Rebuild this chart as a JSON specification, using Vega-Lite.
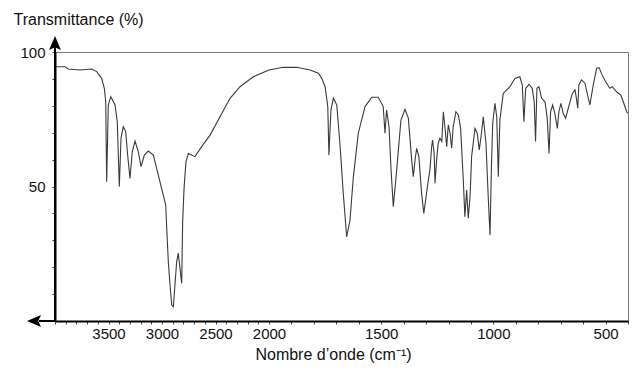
{
  "$schema": "https://vega.github.io/schema/vega-lite/v6.json",
  "width": 573,
  "height": 269,
  "autosize": {"type": "none"},
  "padding": {"left": 55, "top": 52, "right": 7, "bottom": 49},
  "background": "white",
  "config": {"view": {"stroke": "#7a7a7a", "strokeWidth": 1}, "font": "Liberation Sans"},
  "datasets": {
    "spectrum": [
      {"wn": 4000, "T": 94.5}, {"wn": 3907, "T": 94.5}, {"wn": 3876, "T": 93.7}, {"wn": 3766, "T": 93.3},
      {"wn": 3657, "T": 93.7}, {"wn": 3610, "T": 92.7}, {"wn": 3564, "T": 90.2}, {"wn": 3539, "T": 86.5},
      {"wn": 3526, "T": 81.5}, {"wn": 3517, "T": 51.8}, {"wn": 3502, "T": 80.3}, {"wn": 3479, "T": 83.4},
      {"wn": 3439, "T": 80.3}, {"wn": 3418, "T": 74.1}, {"wn": 3399, "T": 49.9}, {"wn": 3383, "T": 68.0},
      {"wn": 3362, "T": 72.2}, {"wn": 3339, "T": 70.4}, {"wn": 3321, "T": 61.7}, {"wn": 3299, "T": 53.0},
      {"wn": 3278, "T": 62.9}, {"wn": 3252, "T": 66.9}, {"wn": 3221, "T": 62.9}, {"wn": 3196, "T": 57.4},
      {"wn": 3165, "T": 61.7}, {"wn": 3128, "T": 63.2}, {"wn": 3081, "T": 61.7}, {"wn": 3035, "T": 54.3},
      {"wn": 2988, "T": 46.8}, {"wn": 2965, "T": 43.1}, {"wn": 2956, "T": 34.6}, {"wn": 2941, "T": 22.0},
      {"wn": 2925, "T": 13.4}, {"wn": 2909, "T": 5.9}, {"wn": 2894, "T": 5.3}, {"wn": 2863, "T": 22.0},
      {"wn": 2848, "T": 25.2}, {"wn": 2832, "T": 19.6}, {"wn": 2816, "T": 14.0}, {"wn": 2807, "T": 36.9},
      {"wn": 2794, "T": 49.3}, {"wn": 2776, "T": 59.2}, {"wn": 2754, "T": 62.3}, {"wn": 2692, "T": 61.1},
      {"wn": 2629, "T": 64.8}, {"wn": 2551, "T": 69.1}, {"wn": 2458, "T": 75.9}, {"wn": 2364, "T": 82.8},
      {"wn": 2271, "T": 87.1}, {"wn": 2147, "T": 90.8}, {"wn": 2000, "T": 93.3}, {"wn": 1936, "T": 94.3},
      {"wn": 1877, "T": 94.3}, {"wn": 1817, "T": 93.3}, {"wn": 1780, "T": 92.1}, {"wn": 1765, "T": 90.2},
      {"wn": 1750, "T": 87.1}, {"wn": 1738, "T": 79.7}, {"wn": 1733, "T": 61.7}, {"wn": 1724, "T": 78.4},
      {"wn": 1713, "T": 82.8}, {"wn": 1698, "T": 80.3}, {"wn": 1684, "T": 66.1}, {"wn": 1669, "T": 47.5},
      {"wn": 1654, "T": 31.3}, {"wn": 1639, "T": 37.5}, {"wn": 1624, "T": 53.6}, {"wn": 1602, "T": 69.8},
      {"wn": 1572, "T": 79.7}, {"wn": 1542, "T": 83.2}, {"wn": 1513, "T": 83.2}, {"wn": 1491, "T": 79.7},
      {"wn": 1483, "T": 69.8}, {"wn": 1476, "T": 78.4}, {"wn": 1465, "T": 72.2}, {"wn": 1456, "T": 56.1},
      {"wn": 1446, "T": 42.5}, {"wn": 1431, "T": 56.1}, {"wn": 1412, "T": 74.7}, {"wn": 1394, "T": 78.7},
      {"wn": 1379, "T": 75.4}, {"wn": 1364, "T": 59.9}, {"wn": 1357, "T": 53.6}, {"wn": 1349, "T": 59.9},
      {"wn": 1342, "T": 64.2}, {"wn": 1332, "T": 61.1}, {"wn": 1320, "T": 47.5}, {"wn": 1310, "T": 40.0},
      {"wn": 1290, "T": 52.4}, {"wn": 1283, "T": 56.1}, {"wn": 1275, "T": 64.8}, {"wn": 1271, "T": 67.3},
      {"wn": 1264, "T": 62.3}, {"wn": 1260, "T": 51.2}, {"wn": 1253, "T": 59.9}, {"wn": 1246, "T": 66.1},
      {"wn": 1238, "T": 67.9}, {"wn": 1230, "T": 66.7}, {"wn": 1223, "T": 77.8}, {"wn": 1216, "T": 72.2},
      {"wn": 1208, "T": 64.8}, {"wn": 1201, "T": 72.9}, {"wn": 1193, "T": 69.8}, {"wn": 1186, "T": 64.2},
      {"wn": 1179, "T": 72.2}, {"wn": 1167, "T": 77.8}, {"wn": 1156, "T": 76.6}, {"wn": 1146, "T": 71.6},
      {"wn": 1134, "T": 52.4}, {"wn": 1127, "T": 38.8}, {"wn": 1119, "T": 48.7}, {"wn": 1112, "T": 38.2},
      {"wn": 1104, "T": 46.2}, {"wn": 1097, "T": 61.1}, {"wn": 1082, "T": 71.6}, {"wn": 1072, "T": 69.8},
      {"wn": 1063, "T": 63.6}, {"wn": 1055, "T": 68.5}, {"wn": 1045, "T": 75.9}, {"wn": 1033, "T": 66.1},
      {"wn": 1023, "T": 46.2}, {"wn": 1015, "T": 32.0}, {"wn": 1009, "T": 56.1}, {"wn": 1003, "T": 73.5},
      {"wn": 993, "T": 80.9}, {"wn": 985, "T": 75.9}, {"wn": 978, "T": 53.6}, {"wn": 971, "T": 74.7},
      {"wn": 956, "T": 84.6}, {"wn": 926, "T": 87.1}, {"wn": 904, "T": 90.2}, {"wn": 882, "T": 90.8},
      {"wn": 871, "T": 87.7}, {"wn": 864, "T": 74.1}, {"wn": 856, "T": 86.5}, {"wn": 841, "T": 88.0},
      {"wn": 827, "T": 86.5}, {"wn": 818, "T": 81.5}, {"wn": 812, "T": 66.7}, {"wn": 806, "T": 86.5},
      {"wn": 797, "T": 87.1}, {"wn": 785, "T": 82.8}, {"wn": 770, "T": 81.5}, {"wn": 760, "T": 75.4},
      {"wn": 752, "T": 62.3}, {"wn": 745, "T": 77.8}, {"wn": 736, "T": 80.3}, {"wn": 726, "T": 77.2},
      {"wn": 715, "T": 71.6}, {"wn": 708, "T": 77.8}, {"wn": 699, "T": 80.9}, {"wn": 689, "T": 77.2},
      {"wn": 678, "T": 75.4}, {"wn": 666, "T": 79.1}, {"wn": 648, "T": 84.6}, {"wn": 636, "T": 85.9},
      {"wn": 629, "T": 82.2}, {"wn": 624, "T": 79.1}, {"wn": 619, "T": 87.7}, {"wn": 607, "T": 89.6},
      {"wn": 592, "T": 88.4}, {"wn": 580, "T": 84.0}, {"wn": 570, "T": 80.3}, {"wn": 555, "T": 87.7},
      {"wn": 540, "T": 93.9}, {"wn": 529, "T": 94.2}, {"wn": 515, "T": 91.4}, {"wn": 500, "T": 89.0},
      {"wn": 481, "T": 86.5}, {"wn": 470, "T": 87.1}, {"wn": 451, "T": 85.2}, {"wn": 432, "T": 84.0},
      {"wn": 421, "T": 81.5}, {"wn": 406, "T": 77.8}, {"wn": 402, "T": 77.2}
    ]
  },
  "layer": [
    {
      "data": {"name": "spectrum"},
      "mark": {"type": "line", "color": "#3a3a3a", "strokeWidth": 1.1},
      "encoding": {
        "x": {
          "field": "wn", "type": "quantitative",
          "scale": {"domain": [4000, 2000, 400], "range": [0, 214, 573], "nice": false, "zero": false},
          "axis": {
            "values": [400, 500, 600, 700, 800, 900, 1000, 1100, 1200, 1300, 1400, 1500, 1600, 1700, 1800, 1900, 2000, 2100, 2200, 2300, 2400, 2500, 2600, 2700, 2800, 2900, 3000, 3100, 3200, 3300, 3400, 3500, 3600, 3700, 3800, 3900, 4000],
            "tickCount": 200,
            "format": "d",
            "labelExpr": "datum.value % 500 == 0 && datum.value < 4000 ? datum.label : ''",
            "labelOverlap": false, "labelFlush": false, "labelBound": false,
            "labelFontSize": 15, "labelColor": "#111", "labelPadding": 2,
            "tickSize": 3, "tickColor": "#444", "tickWidth": 1,
            "domainColor": "#000", "domainWidth": 2, "grid": false,
            "title": "Nombre d’onde (cm⁻¹)",
            "titleFontSize": 16, "titleFontWeight": "normal", "titleColor": "#111",
            "titleX": 278, "titleY": 38, "titleAlign": "center", "titleBaseline": "alphabetic"
          }
        },
        "y": {
          "field": "T", "type": "quantitative",
          "scale": {"domain": [0, 100], "nice": false, "zero": false},
          "axis": {
            "values": [0, 10, 20, 30, 40, 50, 60, 70, 80, 90, 100],
            "tickCount": 200,
            "format": "d",
            "labelExpr": "datum.value == 50 || datum.value == 100 ? datum.label : ''",
            "labelOverlap": false, "labelBound": false, "labelFlush": false,
            "labelFontSize": 15, "labelColor": "#111", "labelPadding": 7,
            "tickSize": 3, "tickColor": "#444",
            "domainColor": "#000", "domainWidth": 2, "grid": false,
            "title": "Transmittance (%)", "titleAngle": 0, "titleAlign": "left", "titleBaseline": "alphabetic",
            "titleX": -42, "titleY": -28, "titleFontSize": 16, "titleFontWeight": "normal", "titleColor": "#111"
          }
        }
      }
    },
    {
      "data": {"values": [{}]},
      "mark": {"type": "rule", "color": "#000", "strokeWidth": 2},
      "encoding": {"x": {"datum": 4000}, "y": {"datum": 0}, "y2": {"datum": 104}}
    },
    {
      "data": {"values": [{}]},
      "mark": {"type": "rule", "color": "#000", "strokeWidth": 2},
      "encoding": {"x": {"datum": 4000}, "x2": {"datum": 4150}, "y": {"datum": 0}}
    },
    {
      "data": {"values": [{}]},
      "mark": {"type": "point", "shape": "M0,-1L0.85,1L0,0.6L-0.85,1Z", "filled": true, "color": "#000", "opacity": 1, "size": 196, "strokeWidth": 0},
      "encoding": {"x": {"datum": 4000}, "y": {"datum": 103.3}}
    },
    {
      "data": {"values": [{}]},
      "mark": {"type": "point", "shape": "M-1,0L1,-0.85L0.6,0L1,0.85Z", "filled": true, "color": "#000", "opacity": 1, "size": 196, "strokeWidth": 0},
      "encoding": {"x": {"datum": 4196}, "y": {"datum": 0}}
    }
  ]
}
